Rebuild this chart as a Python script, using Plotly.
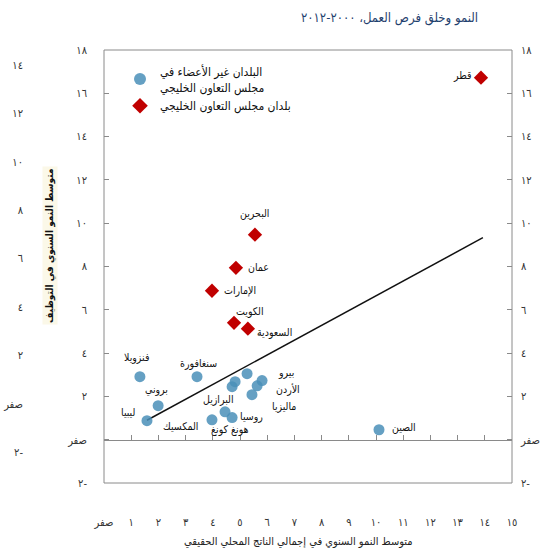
import plotly.graph_objects as go

# ---------------- data ----------------
non_gcc_names = ["فنزويلا", "سنغافورة", "بروني", "ليبيا", "المكسيك", "هونغ كونغ", "روسيا",
                 "البرازيل", "", "", "بيرو", "الأردن", "ماليزيا", "الصين"]
non_gcc_x = [1.32, 3.42, 1.99, 1.58, 3.97, 4.45, 4.71, 4.71, 4.82, 5.26, 5.81, 5.63, 5.44, 10.11]
non_gcc_y = [2.91, 2.91, 1.57, 0.88, 0.92, 1.29, 1.02, 2.45, 2.68, 3.05, 2.73, 2.49, 2.08, 0.46]

gcc_names = ["قطر", "البحرين", "عمان", "الإمارات", "الكويت", "السعودية"]
gcc_x = [13.86, 5.55, 4.85, 3.97, 4.78, 5.29]
gcc_y = [16.72, 9.47, 7.94, 6.88, 5.40, 5.13]

fit_x = [1.58, 13.93]
fit_y = [0.90, 9.33]

x_tickvals = list(range(0, 16))
x_ticktext = ["صفر", "١", "٢", "٣", "٤", "٥", "٦", "٧", "٨", "٩", "١٠", "١١", "١٢", "١٣", "١٤", "١٥"]
y_tickvals = [18, 16, 14, 12, 10, 8, 6, 4, 2, 0, -2]
y_ticktext = ["١٨", "١٦", "١٤", "١٢", "١٠", "٨", "٦", "٤", "٢", "صفر", "٢-"]
ghost_tickvals = [14, 12, 10, 8, 6, 4, 2, 0, -2]
ghost_ticktext = ["١٤", "١٢", "١٠", "٨", "٦", "٤", "٢", "صفر", "٢-"]

legend_non_gcc = "البلدان غير الأعضاء في<br>مجلس التعاون الخليجي"
legend_gcc = "بلدان مجلس التعاون الخليجي"
title_text = "النمو وخلق فرص العمل، ٢٠٠٠-٢٠١٢"
x_title = "متوسط النمو السنوي في إجمالي الناتج المحلي الحقيقي"
y_title = "متوسط النمو السنوي في التوظيف"

# label placement (pixel offsets, anchor) -- styling only
non_gcc_lab = [("center", -3, 19), ("center", 1, 13), ("center", -2, 16), ("right", -10, 9),
               ("right", -12, -6), ("center", 5, -18), ("left", 6, 1), ("center", -14, -13),
               ("left", 0, 0), ("left", 0, 0), ("left", 14, 8), ("left", 17, -4),
               ("left", 18, -12), ("left", 11, 2)]
gcc_lab = [("right", -8, 2), ("center", 0, 21), ("left", 10, 1), ("left", 10, 0),
           ("center", 16, 11), ("left", 7, -4)]

FONT = "DejaVu Sans Condensed, DejaVu Sans"
W, H = 556, 560
px_left, px_right, px_top, px_bottom = 104, 512, 50, 483

fig = go.Figure()

fig.add_trace(go.Scatter(x=fit_x, y=fit_y, mode="lines", line=dict(color="#111111", width=1.5),
                         showlegend=False, hoverinfo="skip"))
fig.add_trace(go.Scatter(x=non_gcc_x, y=non_gcc_y, mode="markers", name=legend_non_gcc,
                         marker=dict(symbol="circle", size=11, color="#4a8fb8", opacity=0.85,
                                     line=dict(width=0))))
fig.add_trace(go.Scatter(x=gcc_x, y=gcc_y, mode="markers", name=legend_gcc,
                         marker=dict(symbol="diamond", size=11, color="#c00000", line=dict(width=0))))
# helper (invisible) traces so the extra axes are drawn
fig.add_trace(go.Scatter(x=[None], y=[None], xaxis="x2", yaxis="y", showlegend=False, hoverinfo="skip"))
fig.add_trace(go.Scatter(x=[None], y=[None], xaxis="x", yaxis="y2", showlegend=False, hoverinfo="skip"))
fig.add_trace(go.Scatter(x=[None], y=[None], xaxis="x", yaxis="y3", showlegend=False, hoverinfo="skip"))

ann = []
for names, xs, ys, labs in [(non_gcc_names, non_gcc_x, non_gcc_y, non_gcc_lab),
                            (gcc_names, gcc_x, gcc_y, gcc_lab)]:
    for n, x, y, (anc, dx, dy) in zip(names, xs, ys, labs):
        if not n:
            continue
        ann.append(dict(x=x, y=y, xref="x", yref="y", text=n, showarrow=False,
                        xanchor=anc, yanchor="middle", xshift=dx, yshift=dy,
                        font=dict(family=FONT, size=10.5, color="#111111")))

ann.append(dict(x=480 / W, y=1 - 18 / H, xref="paper", yref="paper", text=title_text,
                showarrow=False, xanchor="right", yanchor="middle",
                font=dict(family=FONT, size=13, color="#1f3f6e")))
ann.append(dict(x=298 / W, y=1 - 541 / H, xref="paper", yref="paper", text=x_title,
                showarrow=False, xanchor="center", yanchor="middle",
                font=dict(family=FONT, size=11, color="#222222")))
ann.append(dict(x=50 / W, y=1 - 246 / H, xref="paper", yref="paper", text="<b>" + y_title + "</b>",
                showarrow=False, xanchor="center", yanchor="middle", textangle=-90,
                bgcolor="rgba(250,245,222,0.7)",
                font=dict(family=FONT, size=10, color="#111111")))

xdom = [px_left / W, px_right / W]
ydom = [1 - px_bottom / H, 1 - px_top / H]
yrange = [-2, 18]
zero_pos = ydom[0] + (0 - yrange[0]) / (yrange[1] - yrange[0]) * (ydom[1] - ydom[0])

tickfont = dict(family=FONT, size=11, color="#333333")

fig.update_layout(
    width=W, height=H,
    margin=dict(l=0, r=0, t=0, b=0, autoexpand=False),
    paper_bgcolor="white", plot_bgcolor="white",
    showlegend=True,
    legend=dict(x=120 / W, y=1 - 57 / H, xanchor="left", yanchor="top",
                bgcolor="rgba(0,0,0,0)", font=dict(family=FONT, size=12, color="#111111"),
                tracegroupgap=0, itemsizing="constant"),
    xaxis=dict(domain=xdom, range=[0, 15], anchor="free", position=zero_pos,
               showgrid=False, zeroline=False, showline=True, linecolor="#8a8a8a", linewidth=1,
               ticks="inside", ticklen=5, tickcolor="#8a8a8a", tickvals=x_tickvals,
               showticklabels=False, automargin=False),
    xaxis2=dict(overlaying="x", range=[0, 15], anchor="free", position=1 - 514 / H,
                showgrid=False, zeroline=False, showline=False, ticks="",
                tickvals=x_tickvals, ticktext=x_ticktext, tickfont=tickfont, automargin=False),
    yaxis=dict(domain=ydom, range=yrange, anchor="x", side="left",
               showgrid=False, zeroline=False, showline=False,
               ticks="inside", ticklen=5, tickcolor="#8a8a8a",
               tickvals=y_tickvals, ticktext=y_ticktext, tickfont=tickfont,
               ticklabelstandoff=16, automargin=False),
    yaxis2=dict(overlaying="y", range=yrange, anchor="x", side="right",
                showgrid=False, zeroline=False, showline=False,
                ticks="inside", ticklen=5, tickcolor="#8a8a8a",
                tickvals=y_tickvals, ticktext=y_ticktext, tickfont=tickfont,
                ticklabelstandoff=8, automargin=False),
    yaxis3=dict(overlaying="y", anchor="free", position=23 / W, side="left",
                range=[-3.28, 14.62], showgrid=False, zeroline=False, showline=False, ticks="",
                tickvals=ghost_tickvals, ticktext=ghost_ticktext, tickfont=tickfont,
                automargin=False),
    annotations=ann,
    shapes=[dict(type="rect", xref="x domain", yref="y domain", x0=0, x1=1, y0=0, y1=1,
                 line=dict(color="#8a8a8a", width=1), fillcolor="rgba(0,0,0,0)")],
)

fig.write_html("out.html", config={"displayModeBar": False},
               post_script="document.body.style.margin='0px';")
